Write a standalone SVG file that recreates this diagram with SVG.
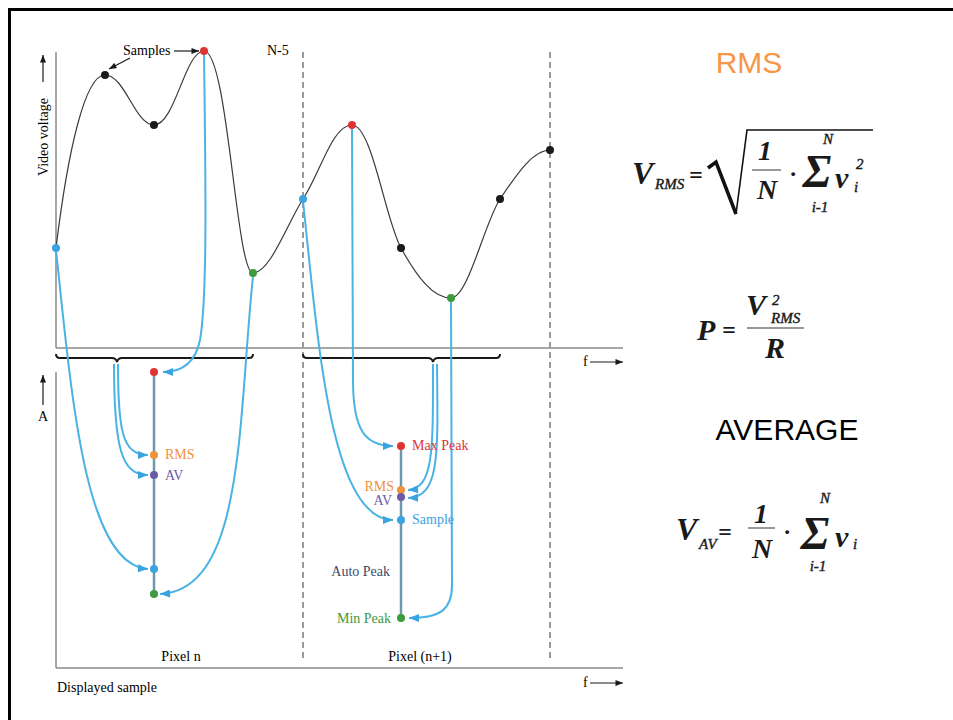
<svg xmlns="http://www.w3.org/2000/svg" width="953" height="720" viewBox="0 0 953 720">
<defs>
<style>
.axis{stroke:#8a8a8a;stroke-width:1.5;fill:none}
.dash{stroke:#9a9a9a;stroke-width:2;stroke-dasharray:6 4;fill:none}
.curve{stroke:#3a3a3a;stroke-width:1.2;fill:none}
.conn{stroke:#4ab3e6;stroke-width:2;fill:none}
.brace{stroke:#1a1a1a;stroke-width:2;fill:none}
.bar{stroke:#6f98ad;stroke-width:2.5}
.lbl{font-family:"Liberation Serif","Times New Roman",serif;font-size:14px}
.math{font-family:"Liberation Serif","DejaVu Serif",serif;font-style:italic;font-weight:bold;fill:#1a1a1a}
.sub{font-family:"Liberation Serif","DejaVu Serif",serif;font-style:italic;font-weight:normal;fill:#1a1a1a;stroke:#1a1a1a;stroke-width:0.4}
.head{font-family:"Liberation Sans",Arial,sans-serif;font-size:30px}
</style>
<marker id="ab" viewBox="0 0 10 8" refX="10" refY="4" markerWidth="11" markerHeight="8" markerUnits="userSpaceOnUse" orient="auto">
<path d="M0,0 L10,4 L0,8 Z" fill="#3aa3e0"/>
</marker>
<marker id="ak" viewBox="0 0 10 8" refX="10" refY="4" markerWidth="9" markerHeight="6" markerUnits="userSpaceOnUse" orient="auto">
<path d="M0,0 L10,4 L0,8 Z" fill="#1a1a1a"/>
</marker>
</defs>
<rect width="953" height="720" fill="#ffffff"/>
<!-- frame -->
<path d="M9.5,720 V9.5 H953" stroke="#000" stroke-width="3" fill="none"/>

<!-- axes -->
<g id="axes">
<line class="axis" x1="56" y1="52" x2="56" y2="348"/>
<line class="axis" x1="56" y1="348" x2="623" y2="348"/>
<line class="axis" x1="56" y1="372" x2="56" y2="668"/>
<line class="axis" x1="56" y1="668" x2="623" y2="668"/>
<line class="dash" x1="303" y1="52" x2="303" y2="662"/>
<line class="dash" x1="550" y1="52" x2="550" y2="662"/>
<line x1="43" y1="82" x2="43" y2="55" stroke="#1a1a1a" stroke-width="1.2" marker-end="url(#ak)"/>
<text class="lbl" transform="translate(48,137) rotate(-90)" text-anchor="middle">Video voltage</text>
<line x1="43" y1="405" x2="43" y2="375" stroke="#1a1a1a" stroke-width="1.2" marker-end="url(#ak)"/>
<text class="lbl" x="43" y="421" text-anchor="middle" font-size="12">A</text>
<text class="lbl" x="583" y="366">f</text>
<line x1="590" y1="362" x2="623" y2="362" stroke="#1a1a1a" stroke-width="1.2" marker-end="url(#ak)"/>
<text class="lbl" x="583" y="687">f</text>
<line x1="590" y1="683" x2="623" y2="683" stroke="#1a1a1a" stroke-width="1.2" marker-end="url(#ak)"/>
<text class="lbl" x="123" y="55">Samples</text>
<line x1="174" y1="51" x2="199" y2="51" stroke="#1a1a1a" stroke-width="1.2" marker-end="url(#ak)"/>
<line x1="130" y1="58" x2="109" y2="69" stroke="#1a1a1a" stroke-width="1.2" marker-end="url(#ak)"/>
<text class="lbl" x="267" y="55">N-5</text>
<text class="lbl" x="181" y="661" text-anchor="middle">Pixel n</text>
<text class="lbl" x="420" y="661" text-anchor="middle">Pixel (n+1)</text>
<text class="lbl" x="57" y="692">Displayed sample</text>
</g>

<!-- waveform -->
<g id="waveform">
<path class="curve" d="M56,248 C68,150 85,75 105,75 C125,75 135,125 154,125 C175,125 185,51 204,51 C228,51 236,273 253,273 C270,273 287,224 303,199 C320,174 332,125 352,125 C372,125 385,219 401,248 C417,277 433,298 451,298 C468,298 484,224 500,199 C517,174 533,150 550,150"/>
</g>

<!-- braces -->
<g id="braces">
<path class="brace" d="M56,354 q0,4 4,4 H112 q4,0 5,4 q1,-4 5,-4 H249 q4,0 4,-4"/>
<path class="brace" d="M303,354 q0,4 4,4 H428 q4,0 5,4 q1,-4 5,-4 H496 q4,0 4,-4"/>
</g>

<!-- connectors -->
<g id="connectors">
<path class="conn" d="M204,53 C206,200 207,300 200,340 C195,365 180,372 163,372" marker-end="url(#ab)"/>
<path class="conn" d="M56,250 C72,400 85,565 148,569" marker-end="url(#ab)"/>
<path class="conn" d="M253,276 C238,420 245,590 160,594" marker-end="url(#ab)"/>
<path class="conn" d="M118,364 C118,430 122,455 148,455" marker-end="url(#ab)" stroke-width="1.6"/>
<path class="conn" d="M114,364 C114,450 122,475 148,475" marker-end="url(#ab)" stroke-width="1.6"/>
<path class="conn" d="M352,128 L353,380 C353,430 365,446 393,446" marker-end="url(#ab)"/>
<path class="conn" d="M303,201 C318,340 330,520 393,520" marker-end="url(#ab)"/>
<path class="conn" d="M451,300 L452,585 C452,610 440,618 409,618" marker-end="url(#ab)"/>
<path class="conn" d="M433,364 C433,450 434,488 408,490" marker-end="url(#ab)" stroke-width="1.6"/>
<path class="conn" d="M437,364 C438,455 440,497 408,498" marker-end="url(#ab)" stroke-width="1.6"/>
</g>

<!-- sample dots -->
<g id="samples">
<circle cx="56" cy="248" r="4" fill="#3aa3e0"/>
<circle cx="105" cy="75" r="4" fill="#1a1a1a"/>
<circle cx="154" cy="125" r="4" fill="#1a1a1a"/>
<circle cx="204" cy="51" r="4" fill="#e03333"/>
<circle cx="253" cy="273" r="4" fill="#3d9a3d"/>
<circle cx="303" cy="199" r="4" fill="#3aa3e0"/>
<circle cx="352" cy="125" r="4" fill="#e03333"/>
<circle cx="401" cy="248" r="4" fill="#1a1a1a"/>
<circle cx="451" cy="298" r="4" fill="#3d9a3d"/>
<circle cx="500" cy="199" r="4" fill="#1a1a1a"/>
<circle cx="550" cy="150" r="4" fill="#1a1a1a"/>
</g>

<!-- pixel n -->
<g id="pixel-n">
<line class="bar" x1="154" y1="372" x2="154" y2="594"/>
<circle cx="154" cy="372" r="4" fill="#e03333"/>
<circle cx="154" cy="455" r="4" fill="#f0923a"/>
<circle cx="154" cy="475" r="4" fill="#6b5ba6"/>
<circle cx="154" cy="569" r="4" fill="#3aa3e0"/>
<circle cx="154" cy="594" r="4" fill="#3d9a3d"/>
<text class="lbl" x="165" y="459" fill="#f0923a">RMS</text>
<text class="lbl" x="165" y="480" fill="#6b5ba6">AV</text>
</g>

<!-- pixel n+1 -->
<g id="pixel-n1">
<line class="bar" x1="401" y1="446" x2="401" y2="618"/>
<circle cx="401" cy="446" r="4" fill="#e03333"/>
<circle cx="401" cy="490" r="4" fill="#f0923a"/>
<circle cx="401" cy="497" r="4" fill="#6b5ba6"/>
<circle cx="401" cy="520" r="4" fill="#3aa3e0"/>
<circle cx="401" cy="618" r="4" fill="#3d9a3d"/>
<text class="lbl" x="412" y="450" fill="#e03333">Max Peak</text>
<text class="lbl" x="394" y="491" fill="#f0923a" text-anchor="end">RMS</text>
<text class="lbl" x="392" y="505" fill="#6b5ba6" text-anchor="end">AV</text>
<text class="lbl" x="412" y="524" fill="#3aa3e0">Sample</text>
<text class="lbl" x="390" y="576" fill="#3a4a6a" text-anchor="end">Auto Peak</text>
<text class="lbl" x="391" y="623" fill="#3d9a3d" text-anchor="end">Min Peak</text>
</g>

<!-- formulas -->
<g id="rms-title"><text class="head" x="749" y="73" text-anchor="middle" fill="#f79646">RMS</text></g>
<g id="vrms">
<text class="math" x="632" y="184" font-size="32">V</text>
<text class="sub" x="655" y="189" font-size="15">RMS</text>
<text class="math" x="689" y="183" font-size="24" font-style="normal">=</text>
<path d="M708,168 L716,162 L736,214" stroke="#111" stroke-width="3.5" fill="none" stroke-linejoin="miter"/>
<path d="M736,214 L747,130 L873,130" stroke="#111" stroke-width="1.6" fill="none"/>
<text class="math" x="765" y="160" font-size="28" text-anchor="middle">1</text>
<line x1="752" y1="170" x2="781" y2="170" stroke="#777" stroke-width="1.5"/>
<text class="math" x="767" y="199" font-size="28" text-anchor="middle">N</text>
<text class="math" x="793" y="182" font-size="24" font-style="normal" text-anchor="middle">·</text>
<text class="math" x="817" y="187" font-size="46" font-style="normal" font-weight="normal" text-anchor="middle">Σ</text>
<text class="sub" x="828" y="144" font-size="15" text-anchor="middle">N</text>
<text class="sub" x="820" y="212" font-size="15" text-anchor="middle">i-1</text>
<text class="math" x="835" y="188" font-size="30">v</text>
<text class="sub" x="856" y="169" font-size="15">2</text>
<text class="sub" x="854" y="192" font-size="15">i</text>
</g>
<g id="power">
<text class="math" x="697" y="340" font-size="30">P</text>
<text class="math" x="722" y="338" font-size="24" font-style="normal">=</text>
<text class="math" x="746" y="315" font-size="30">V</text>
<text class="sub" x="772" y="305" font-size="15">2</text>
<text class="sub" x="771" y="323" font-size="15">RMS</text>
<line x1="747" y1="328" x2="804" y2="328" stroke="#777" stroke-width="1.5"/>
<text class="math" x="775" y="358" font-size="30" text-anchor="middle">R</text>
</g>
<g id="average-title"><text class="head" x="787" y="440" text-anchor="middle" fill="#000">AVERAGE</text></g>
<g id="vav">
<text class="math" x="676" y="540" font-size="32">V</text>
<text class="sub" x="699" y="549" font-size="15">AV</text>
<text class="math" x="718" y="540" font-size="24" font-style="normal">=</text>
<text class="math" x="761" y="523" font-size="28" text-anchor="middle">1</text>
<line x1="748" y1="528" x2="775" y2="528" stroke="#777" stroke-width="1.5"/>
<text class="math" x="762" y="558" font-size="28" text-anchor="middle">N</text>
<text class="math" x="787" y="540" font-size="24" font-style="normal" text-anchor="middle">·</text>
<text class="math" x="815" y="549" font-size="46" font-style="normal" font-weight="normal" text-anchor="middle">Σ</text>
<text class="sub" x="825" y="503" font-size="15" text-anchor="middle">N</text>
<text class="sub" x="818" y="571" font-size="15" text-anchor="middle">i-1</text>
<text class="math" x="835" y="547" font-size="30">v</text>
<text class="sub" x="853" y="549" font-size="15">i</text>
</g>
</svg>
